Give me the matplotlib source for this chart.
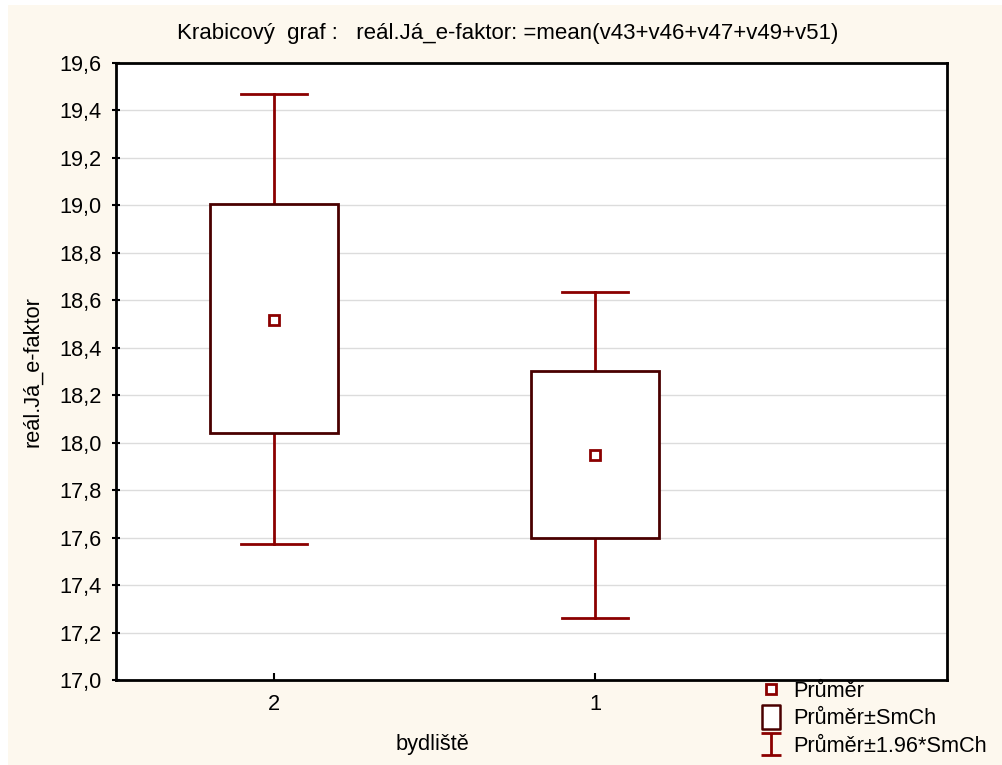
import matplotlib
matplotlib.use("Agg")
import matplotlib.pyplot as plt
from matplotlib.lines import Line2D
from matplotlib.path import Path
from matplotlib.patches import Rectangle

categories = ["2", "1"]
means = [18.517, 17.948]
box_low = [18.04, 17.598]
box_high = [19.006, 18.300]
whisk_low = [17.573, 17.261]
whisk_high = [19.468, 18.635]
yticks = [17.0, 17.2, 17.4, 17.6, 17.8, 18.0, 18.2, 18.4, 18.6, 18.8, 19.0, 19.2, 19.4, 19.6]

plt.rcParams['font.family'] = ['Liberation Sans', 'DejaVu Sans']

BOX_C = '#4a0000'
WH_C = '#8b0000'
CREAM = '#fdf8ee'
FS = 15.7

fig = plt.figure(figsize=(10.02, 7.65), dpi=100)
fig.patch.set_facecolor('white')
fig.patches.append(Rectangle((8/1002, 0), 1, 1 - 5/765, transform=fig.transFigure,
                             facecolor=CREAM, edgecolor='none', zorder=-10))
ax = fig.add_axes([116/1002, 1 - 680/765, 831/1002, 617/765])
ax.set_facecolor('white')

bw = 0.4
cw = 0.205
for i in range(len(categories)):
    ax.plot([i, i], [box_high[i], whisk_high[i]], color=WH_C, lw=2, zorder=2)
    ax.plot([i, i], [whisk_low[i], box_low[i]], color=WH_C, lw=2, zorder=2)
    ax.plot([i - cw/2, i + cw/2], [whisk_high[i]] * 2, color=WH_C, lw=2, zorder=2)
    ax.plot([i - cw/2, i + cw/2], [whisk_low[i]] * 2, color=WH_C, lw=2, zorder=2)
    ax.add_patch(Rectangle((i - bw/2, box_low[i]), bw, box_high[i] - box_low[i],
                           facecolor='white', edgecolor=BOX_C, lw=2, zorder=3))
ax.plot(range(len(categories)), means, linestyle='none', marker='s', markersize=7.5,
        markerfacecolor='white', markeredgecolor=WH_C, markeredgewidth=2, zorder=4)

ax.set_xlim(-0.492, 2.097)
ax.set_ylim(17.0, 19.6)
ax.set_yticks(yticks)
ax.set_yticklabels([f"{v:.1f}".replace('.', ',') for v in yticks], fontsize=FS)
ax.set_xticks(range(len(categories)))
ax.set_xticklabels(categories, fontsize=FS)
ax.tick_params(axis='y', direction='inout', length=6, width=1.5, colors='black', pad=7.5)
ax.tick_params(axis='x', direction='in', length=5, width=1.5, pad=10)
ax.grid(axis='y', color='#dcdcdc', lw=1)
ax.set_axisbelow(True)
for s in ax.spines.values():
    s.set_linewidth(2)
    s.set_color('black')

ax.set_xlabel("bydliště", fontsize=FS)
ax.xaxis.set_label_coords((432 - 116) / 831, (680 - 734) / 617)
ax.set_ylabel("reál.Já_e-faktor", fontsize=FS)
ax.yaxis.set_label_coords((43 - 116) / 831, 0.5)

fig.text(508/1002, 1 - 33/765, "Krabicový  graf :   reál.Já_e-faktor: =mean(v43+v46+v47+v49+v51)",
         ha='center', va='center', fontsize=16)

ibeam = Path([(-0.45, -0.5), (0.45, -0.5), (0, -0.5), (0, 0.5), (-0.45, 0.5), (0.45, 0.5)],
             [Path.MOVETO, Path.LINETO, Path.MOVETO, Path.LINETO, Path.MOVETO, Path.LINETO])
rect = Path([(-0.38, -0.5), (0.38, -0.5), (0.38, 0.5), (-0.38, 0.5), (-0.38, -0.5)],
            [Path.MOVETO, Path.LINETO, Path.LINETO, Path.LINETO, Path.CLOSEPOLY])
handles = [
    Line2D([], [], linestyle='none', marker='s', markersize=6.5, markerfacecolor='white',
           markeredgecolor=WH_C, markeredgewidth=2),
    Line2D([], [], linestyle='none', marker=rect, markersize=17, markerfacecolor='white',
           markeredgecolor=BOX_C, markeredgewidth=1.8),
    Line2D([], [], linestyle='none', marker=ibeam, markersize=16, markerfacecolor='none',
           markeredgecolor=WH_C, markeredgewidth=2),
]
labels = ["Průměr", "Průměr±SmCh", "Průměr±1.96*SmCh"]
fig.legend(handles, labels, loc='center left', bbox_to_anchor=(758/1002, 1 - 719/765),
           frameon=False, fontsize=FS, handlelength=1.2, handletextpad=0.4,
           labelspacing=0.3, borderpad=0, borderaxespad=0)

fig.savefig("out.png", dpi=100, facecolor=fig.get_facecolor())
